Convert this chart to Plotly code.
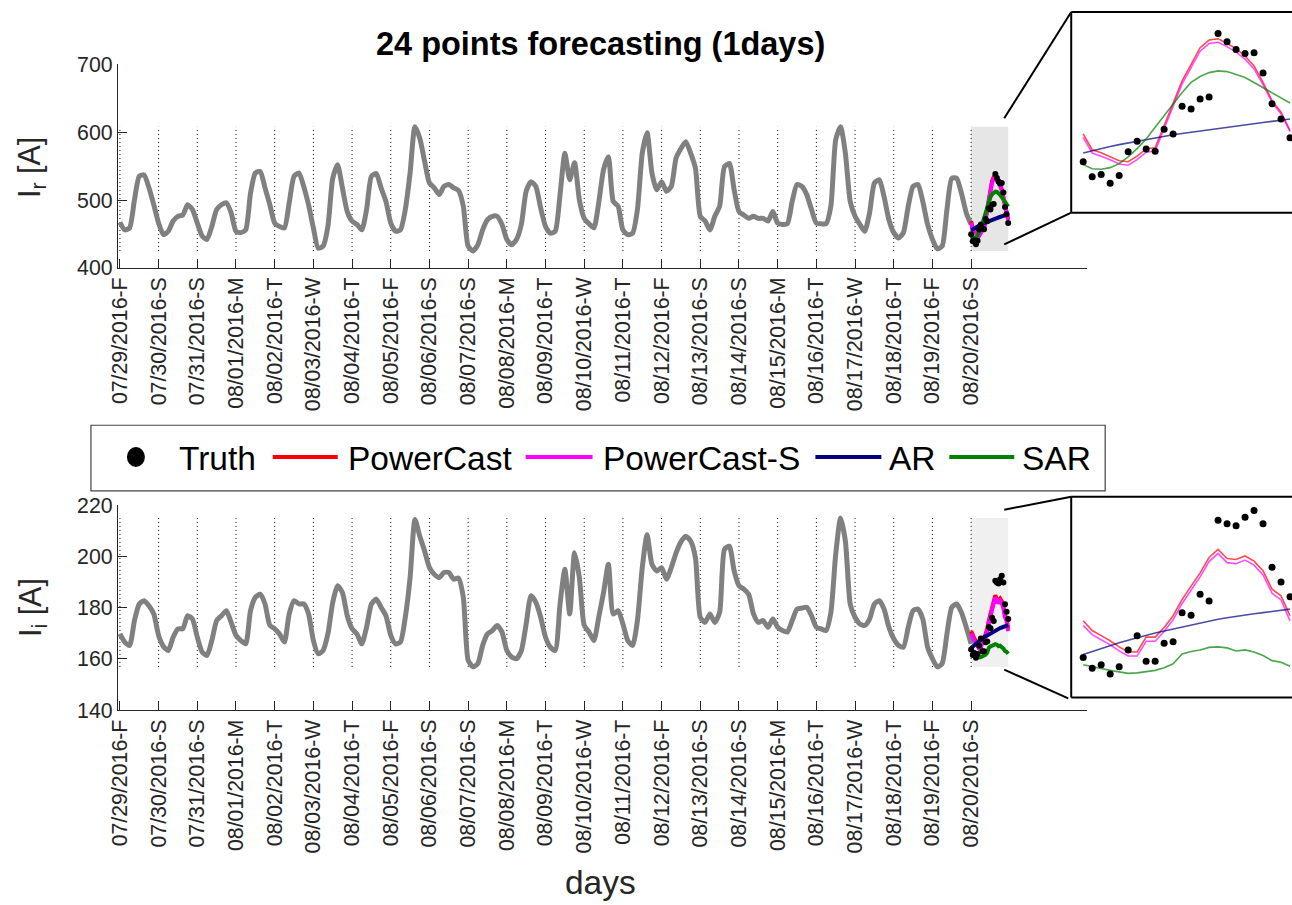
import plotly.graph_objects as go

W, H = 1292, 905

# ---------------- data ----------------
tick_days = list(range(23))
tick_labels = ["07/29/2016-F", "07/30/2016-S", "07/31/2016-S", "08/01/2016-M", "08/02/2016-T",
               "08/03/2016-W", "08/04/2016-T", "08/05/2016-F", "08/06/2016-S", "08/07/2016-S",
               "08/08/2016-M", "08/09/2016-T", "08/10/2016-W", "08/11/2016-T", "08/12/2016-F",
               "08/13/2016-S", "08/14/2016-S", "08/15/2016-M", "08/16/2016-T", "08/17/2016-W",
               "08/18/2016-T", "08/19/2016-F", "08/20/2016-S"]

hist_step_hours = 3  # history sampled every 3 hours
ir_hist = [
    467, 456, 459, 500, 535, 537, 518, 493,
    466, 449, 454, 469, 476, 478, 493, 486,
    466, 447, 442, 461, 486, 493, 496, 481,
    454, 452, 456, 510, 540, 542, 518, 493,
    466, 461, 459, 496, 535, 540, 520, 493,
    459, 429, 432, 461, 532, 552, 518, 483,
    469, 464, 456, 486, 535, 539, 518, 498,
    466, 454, 456, 486, 540, 608, 591, 557,
    525, 518, 508, 520, 523, 518, 514, 491,
    432, 425, 434, 456, 471, 476, 476, 464,
    442, 434, 442, 464, 513, 527, 520, 488,
    461, 451, 454, 508, 569, 530, 555, 500,
    473, 465, 459, 496, 545, 564, 498, 491,
    456, 449, 451, 486, 569, 599, 540, 515,
    527, 513, 520, 562, 576, 586, 569, 547,
    476, 469, 456, 476, 491, 549, 554, 515,
    483, 478, 473, 476, 473, 473, 469, 483,
    466, 464, 465, 498, 523, 520, 508, 486,
    466, 465, 465, 491, 589, 608, 569, 498,
    476, 464, 454, 481, 525, 530, 505, 471,
    452, 444, 452, 491, 520, 523, 498, 464,
    442, 428, 432, 486, 532, 532, 510, 481,
    464]
ii_hist = [
    169.8, 166.6, 165.3, 175.0, 181.5, 182.8, 180.8, 177.6,
    169.2, 164.9, 163.3, 168.5, 171.8, 171.8, 176.9, 175.6,
    168.5, 162.7, 161.4, 167.2, 175.0, 176.9, 178.9, 174.3,
    169.2, 167.2, 165.9, 178.9, 184.1, 185.3, 181.5, 173.1,
    171.8, 169.8, 166.6, 177.6, 182.8, 181.5, 181.5, 177.6,
    167.2, 162.0, 163.3, 169.8, 182.1, 188.6, 186.0, 176.9,
    171.8, 169.8, 165.9, 172.4, 181.5, 183.4, 180.2, 176.9,
    169.2, 165.9, 166.6, 176.3, 191.8, 214.5, 208.0, 202.2,
    195.7, 193.1, 191.8, 193.8, 193.8, 191.2, 191.6, 184.1,
    159.5, 156.9, 158.2, 165.3, 169.8, 171.1, 173.1, 170.5,
    163.3, 160.8, 160.1, 163.3, 173.7, 184.7, 182.1, 176.3,
    168.5, 164.6, 163.3, 181.5, 195.1, 177.6, 201.5, 191.8,
    173.1, 170.5, 167.2, 176.3, 186.0, 197.0, 177.6, 178.9,
    173.7, 167.2, 165.3, 175.0, 195.7, 208.6, 197.0, 194.4,
    195.7, 191.2, 195.7, 201.5, 205.8, 208.0, 206.1, 199.6,
    176.3, 174.3, 177.6, 174.3, 178.2, 202.8, 204.1, 194.4,
    188.6, 187.3, 185.3, 177.6, 174.3, 175.0, 172.4, 175.6,
    172.4, 171.1, 170.5, 175.0, 179.5, 179.9, 180.2, 176.9,
    172.4, 171.8, 171.1, 178.2, 200.9, 215.1, 206.1, 181.5,
    176.3, 173.7, 173.1, 175.6, 181.5, 182.8, 179.5, 172.4,
    167.9, 165.3, 164.6, 172.4, 178.9, 179.5, 175.6, 164.6,
    160.1, 156.9, 158.2, 169.8, 180.2, 181.5, 178.2, 172.4,
    165.9]

forecast_start_day = 22
forecast_hours = list(range(24))

ir_truth = [449.6, 439.3, 440.7, 434.8, 440.0, 456.5, 463.8, 458.4, 456.8, 472.0, 468.7, 487.9,
            486.0, 492.9, 494.3, 538.2, 532.5, 527.2, 524.5, 525.0, 511.0, 489.7, 479.2, 466.1]
ir_powercast = [468.9, 457.9, 455.8, 453.3, 450.3, 449.6, 453.5, 458.6, 459.3, 474.6, 490.6, 505.5,
                516.9, 528.4, 533.7, 534.6, 531.4, 527.7, 522.7, 515.8, 504.4, 491.8, 483.8, 471.2]
ir_powercast_s = [466.5, 455.6, 453.4, 451.0, 448.0, 447.2, 451.0, 456.2, 457.0, 472.5, 488.5, 503.4,
                  514.6, 526.0, 531.3, 532.2, 529.2, 525.4, 520.5, 513.8, 502.9, 490.6, 482.6, 470.6]
ir_ar = [455.6, 457.2, 458.7, 460.1, 461.4, 462.6, 463.8, 465.0, 466.1, 467.2, 468.2, 469.1,
         470.0, 470.9, 471.8, 472.7, 473.5, 474.3, 475.1, 475.9, 476.7, 477.5, 478.3, 479.1]
ir_sar = [447.6, 444.8, 444.4, 445.5, 448.3, 452.9, 458.6, 465.4, 473.5, 481.5, 489.5, 497.5,
          504.4, 508.5, 511.2, 512.4, 511.9, 510.1, 507.8, 504.4, 500.9, 497.5, 494.1, 490.2]

ii_truth = [163.7, 161.6, 162.3, 160.5, 161.9, 165.2, 168.0, 163.0, 163.0, 166.5, 166.8, 172.5,
            172.0, 176.1, 174.8, 190.6, 189.9, 189.5, 191.2, 192.5, 189.9, 181.4, 178.5, 175.6]
ii_powercast = [170.9, 169.0, 168.0, 167.0, 165.8, 164.8, 164.8, 167.7, 167.7, 169.6, 171.9, 175.1,
                177.7, 180.3, 183.3, 184.9, 183.1, 182.9, 183.6, 182.6, 180.7, 177.1, 175.8, 171.9]
ii_powercast_s = [170.0, 168.2, 167.2, 166.2, 165.0, 164.0, 164.0, 166.9, 166.9, 168.8, 171.1, 174.3,
                  176.9, 179.5, 182.5, 184.1, 182.3, 182.1, 182.8, 181.8, 179.9, 176.3, 175.0, 170.9]
ii_ar = [164.3, 164.9, 165.5, 166.0, 166.6, 167.1, 167.6, 168.1, 168.5, 168.9, 169.3, 169.7,
         170.1, 170.5, 170.9, 171.2, 171.5, 171.8, 172.1, 172.3, 172.5, 172.7, 172.9, 173.2]
ii_sar = [162.3, 161.9, 161.5, 161.2, 160.9, 160.6, 160.7, 161.0, 161.2, 161.7, 162.5, 164.4,
          164.9, 165.2, 165.7, 165.8, 165.6, 165.0, 165.2, 164.8, 164.1, 163.1, 162.8, 162.0]

series_names = ["PowerCast", "PowerCast-S", "AR", "SAR"]
series_colors = ["#ff0000", "#ff00ff", "#000080", "#008000"]

# ---------------- helpers ----------------
FONT = "Liberation Sans, Arial, Helvetica, sans-serif"
# layout calibration (pixel position in the photographed picture -> paper fraction)
SX, OX, SY, OY = 0.993, 9.0, 0.98, 9.0
FS = 1.015  # font scale compensation


def px(x):
    return min(1.0, max(0.0, ((x - OX) / SX) / W))


def py(y):
    return min(1.0, max(0.0, 1 - ((y - OY) / SY) / H))


hist_x = [i * hist_step_hours / 24 for i in range(len(ir_hist))]
fc_x = [forecast_start_day + h / 24 for h in forecast_hours]

fig = go.Figure()

panels = [
    dict(hist=ir_hist, truth=ir_truth,
         fc=[ir_powercast, ir_powercast_s, ir_ar, ir_sar], xa="x", ya="y", xi="x3", yi="y3",
         shade="#e6e6e6"),
    dict(hist=ii_hist, truth=ii_truth,
         fc=[ii_powercast, ii_powercast_s, ii_ar, ii_sar], xa="x2", ya="y2", xi="x4", yi="y4",
         shade="#f0f0f0"),
]

shapes = []
for p in panels:
    allv = p["hist"] + p["truth"] + [v for s in p["fc"] for v in s]
    lo, hi = min(allv), max(allv)
    shapes.append(dict(type="rect", xref=p["xa"], yref=p["ya"], x0=fc_x[0], x1=fc_x[-1],
                       y0=lo, y1=hi, fillcolor=p["shade"], line=dict(width=0), layer="below"))
    for d in tick_days:
        shapes.append(dict(type="line", xref=p["xa"], yref=p["ya"], x0=d, x1=d, y0=lo, y1=hi,
                           line=dict(color="black", width=1, dash="1px,3px"), layer="below"))
    fig.add_trace(go.Scatter(x=hist_x, y=p["hist"], mode="lines", xaxis=p["xa"], yaxis=p["ya"],
                             line=dict(color="#808080", width=5, shape="spline", smoothing=0.6),
                             showlegend=False, hoverinfo="skip"))
    for s, c in zip(p["fc"], series_colors):
        fig.add_trace(go.Scatter(x=fc_x, y=s, mode="lines", xaxis=p["xa"], yaxis=p["ya"],
                                 line=dict(color=c, width=4), showlegend=False))
    fig.add_trace(go.Scatter(x=fc_x, y=p["truth"], mode="markers", xaxis=p["xa"], yaxis=p["ya"],
                             marker=dict(color="black", size=6), showlegend=False))
    for s, c in zip(p["fc"], series_colors):
        fig.add_trace(go.Scatter(x=forecast_hours, y=s, mode="lines", xaxis=p["xi"], yaxis=p["yi"],
                                 line=dict(color=c, width=1.6), opacity=0.7, showlegend=False))
    fig.add_trace(go.Scatter(x=forecast_hours, y=p["truth"], mode="markers", xaxis=p["xi"],
                             yaxis=p["yi"], marker=dict(color="black", size=7), showlegend=False))


def pline(x0, y0, x1, y1, w=2, color="black"):
    return dict(type="line", xref="paper", yref="paper", x0=px(x0), y0=py(y0), x1=px(x1), y1=py(y1),
                line=dict(color=color, width=w))


# zoom inset frames and connector lines
for top, bot in [(9, 211), (497, 699)]:
    shapes.append(pline(1071, top, 1071, bot))
    shapes.append(pline(1071, top, 1292, top))
    shapes.append(pline(1071, bot, 1292, bot))
shapes.append(pline(1004, 116, 1071, 9))
shapes.append(pline(1004, 243, 1071, 211))
shapes.append(pline(1004, 510, 1071, 497))
shapes.append(pline(1004, 671, 1068, 700))

# legend (manual)
shapes.append(dict(type="rect", xref="paper", yref="paper", x0=px(90), x1=px(1105), y0=py(491), y1=py(425),
                   line=dict(color="#444444", width=1.2), fillcolor="white"))
shapes.append(dict(type="circle", xref="paper", yref="paper", x0=px(126), x1=px(144), y0=py(467), y1=py(447),
                   line=dict(color="black", width=0), fillcolor="black"))
legend_lines = [(272, 337), (525, 592), (815, 881), (949, 1014)]
for (a, b), c in zip(legend_lines, series_colors):
    shapes.append(pline(a, 457, b, 457, w=4, color=c))

annotations = []
legend_text_x = [176, 345, 600, 887, 1020]
for t, x in zip(["Truth"] + series_names, legend_text_x):
    annotations.append(dict(text=t, x=px(x), y=py(458), xref="paper", yref="paper", xanchor="left",
                            yanchor="middle", showarrow=False,
                            font=dict(size=33 * FS, color="black", family=FONT)))

annotations.append(dict(text="<b>24 points forecasting (1days)</b>", x=px(600), y=py(41), xref="paper",
                        yref="paper", xanchor="center", yanchor="middle", showarrow=False,
                        font=dict(size=32 * FS, color="black", family=FONT)))
annotations.append(dict(text="I<sub>r</sub> [A]", x=px(31), y=py(165), xref="paper", yref="paper",
                        textangle=-90, xanchor="center", yanchor="middle", showarrow=False,
                        font=dict(size=30 * FS, color="#262626", family=FONT)))
annotations.append(dict(text="I<sub>i</sub> [A]", x=px(31), y=py(608), xref="paper", yref="paper",
                        textangle=-90, xanchor="center", yanchor="middle", showarrow=False,
                        font=dict(size=30 * FS, color="#262626", family=FONT)))
annotations.append(dict(text="days", x=px(600), y=py(885), xref="paper", yref="paper",
                        xanchor="center", yanchor="middle", showarrow=False,
                        font=dict(size=33 * FS, color="#262626", family=FONT)))

xmain = dict(range=[-0.052, 25.0], domain=[px(117), px(1087)], tickvals=tick_days, ticktext=tick_labels,
             tickangle=-90, ticks="inside", ticklen=9, tickcolor="#262626", showline=True,
             linecolor="#262626", linewidth=1, showgrid=False, zeroline=False,
             tickfont=dict(size=21 * FS, color="#262626", family=FONT))
ymain = dict(ticks="inside", ticklen=9, tickcolor="#262626", showline=True, linecolor="#262626",
             linewidth=1, showgrid=False, zeroline=False,
             tickfont=dict(size=21 * FS, color="#262626", family=FONT))
inset_ax = dict(visible=False, showgrid=False, zeroline=False)

fig.update_layout(
    width=W, height=H, autosize=False, margin=dict(l=0, r=0, t=0, b=0, pad=0),
    paper_bgcolor="white", plot_bgcolor="rgba(0,0,0,0)", showlegend=False,
    font=dict(family=FONT, color="#262626"),
    xaxis=dict(xmain, anchor="y"),
    yaxis=dict(ymain, range=[400, 700], tickvals=[400, 500, 600, 700], domain=[py(266.6), py(61.7)],
               anchor="x"),
    xaxis2=dict(xmain, anchor="y2"),
    yaxis2=dict(ymain, range=[140, 220], tickvals=[140, 160, 180, 200, 220], domain=[py(711.8), py(505.8)],
                anchor="x2"),
    xaxis3=dict(inset_ax, range=[-1.333, 23.22], domain=[px(1071), 1.0], anchor="y3"),
    yaxis3=dict(inset_ax, range=[414.4, 553.1], domain=[py(211), py(9)], anchor="x3"),
    xaxis4=dict(inset_ax, range=[-1.333, 23.22], domain=[px(1071), 1.0], anchor="y4"),
    yaxis4=dict(inset_ax, range=[155.9, 195.2], domain=[py(699), py(497)], anchor="x4"),
    shapes=shapes, annotations=annotations,
)

fig.write_html("out.html", config={"displayModeBar": False},
               post_script="var de=document.documentElement;de.style.margin='0';de.style.padding='0';"
                           "de.style.overflow='hidden';"
                           "document.body.style.margin='0';document.body.style.padding='0';"
                           "document.body.style.overflow='hidden';"
                           "var gd=document.getElementById('{plot_id}');"
                           "gd.style.position='fixed';gd.style.left='0px';gd.style.top='0px';")
